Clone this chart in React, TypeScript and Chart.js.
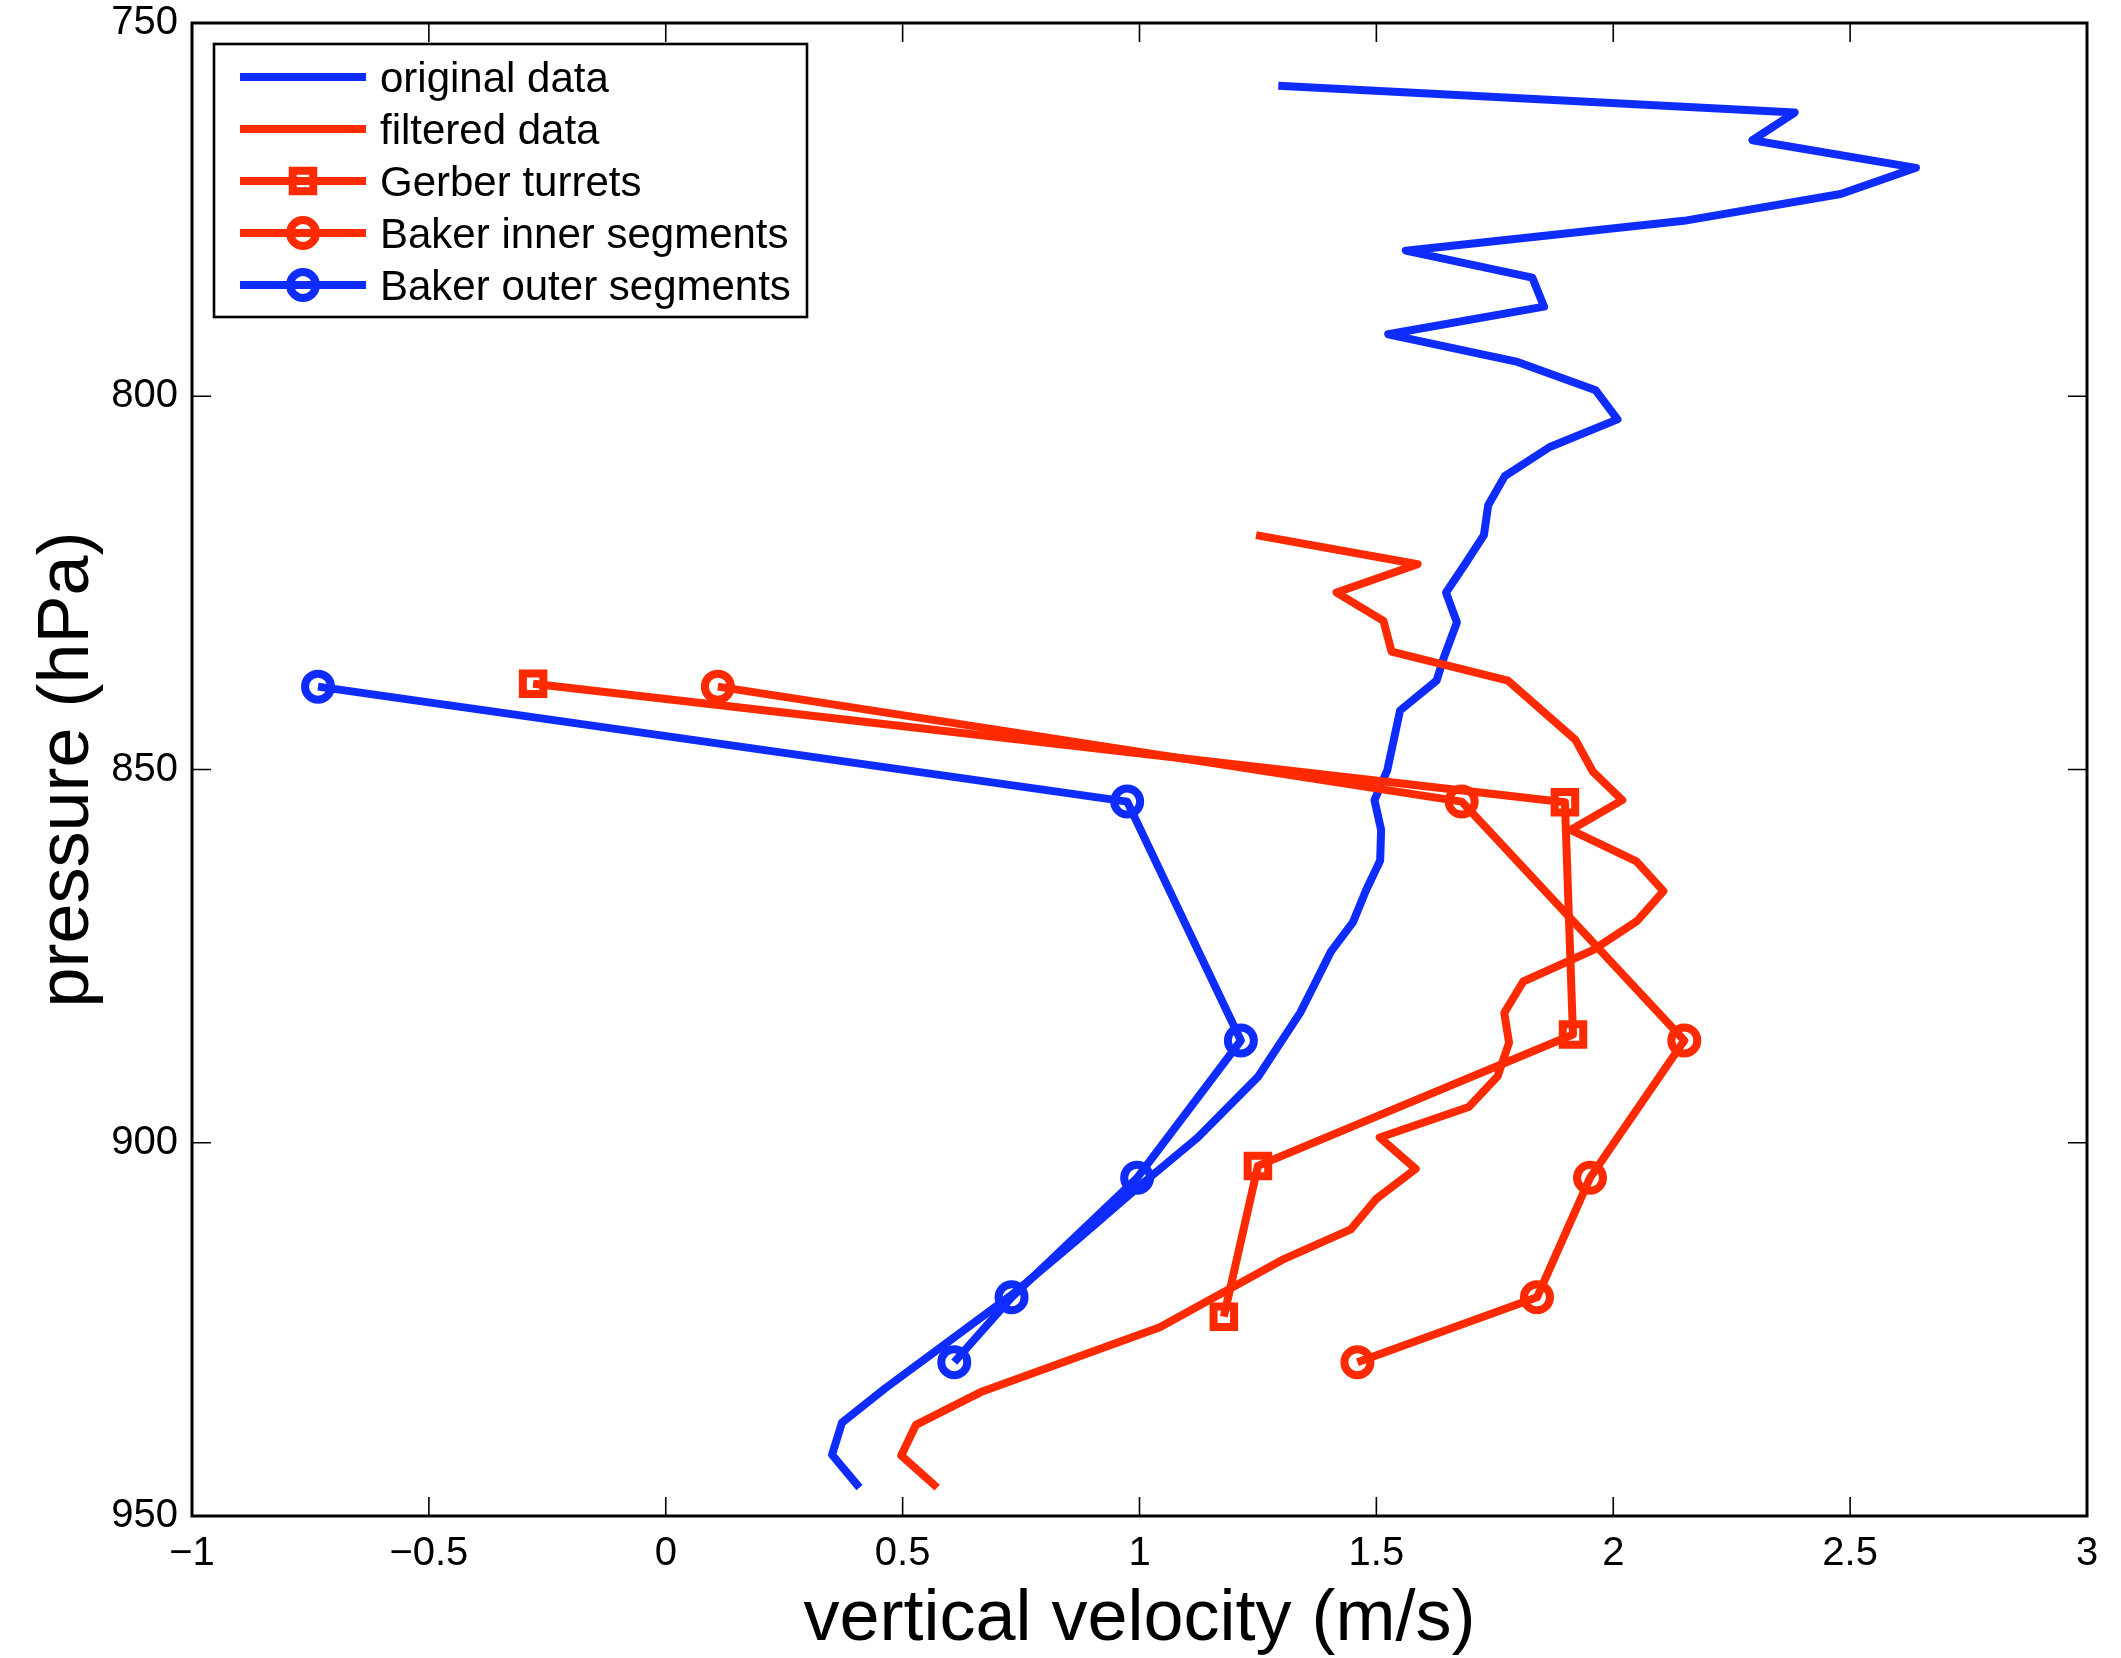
import { useEffect, useRef } from 'react';
import { Chart, registerables } from 'chart.js';

Chart.register(...registerables);

// Axis ticks
const xTicks = [-1, -0.5, 0, 0.5, 1, 1.5, 2, 2.5, 3];
const yTicks = [750, 800, 850, 900, 950];

// Original sounding profile (vertical velocity in m/s vs pressure in hPa)
const originalPressure = [
  758.4, 762.0, 765.7, 769.4, 772.9, 776.5, 780.5, 784.1, 788.0, 791.7, 795.4, 799.2, 803.1,
  806.8, 810.7, 814.6, 818.6, 822.6, 826.3, 830.3, 834.9, 838.1, 842.1, 850.1, 854.1, 858.1,
  862.2, 866.2, 870.4, 874.4, 878.7, 882.6, 891.1, 899.3, 905.7, 913.1, 920.3, 928.5, 932.9,
  937.5, 941.8, 946.2,
];
const originalVelocity = [
  1.293, 2.383, 2.294, 2.639, 2.48, 2.149, 1.562, 1.829, 1.854, 1.525, 1.798, 1.963, 2.009,
  1.866, 1.771, 1.736, 1.727, 1.686, 1.647, 1.67, 1.643, 1.627, 1.55, 1.523, 1.496, 1.51,
  1.508, 1.478, 1.451, 1.404, 1.37, 1.339, 1.251, 1.123, 1.002, 0.867, 0.732, 0.557, 0.463,
  0.372, 0.351, 0.409,
];

// Filtered profile
const filteredPressure = [
  818.6, 822.5, 826.3, 830.1, 834.2, 838.1, 846.0, 850.3, 854.1, 858.1, 862.3, 866.3, 870.3,
  874.2, 878.4, 882.6, 886.6, 891.1, 895.2, 899.3, 903.5, 907.5, 911.6, 915.7, 924.7, 933.4,
  937.8, 941.9, 946.2,
];
const filteredVelocity = [
  1.246, 1.587, 1.416, 1.515, 1.532, 1.778, 1.92, 1.957, 2.019, 1.91, 2.049, 2.106, 2.05,
  1.957, 1.81, 1.77, 1.78, 1.756, 1.695, 1.507, 1.583, 1.5, 1.446, 1.301, 1.043, 0.665,
  0.528, 0.497, 0.573,
];

// Gerber turrets
const gerberPressure = [838.5, 854.4, 885.5, 903.1, 923.3];
const gerberVelocity = [-0.28, 1.898, 1.915, 1.25, 1.178];

// Baker inner and outer segments
const bakerPressure = [838.9, 854.3, 886.3, 904.7, 920.7, 929.4];
const bakerInnerVelocity = [0.11, 1.68, 2.15, 1.951, 1.839, 1.46];
const bakerOuterVelocity = [-0.734, 0.974, 1.214, 0.995, 0.73, 0.609];

const legendLabels = [
  'original data',
  'filtered data',
  'Gerber turrets',
  'Baker inner segments',
  'Baker outer segments',
];

const BLUE = '#0f2cff';
const RED = '#ff2a00';
const FONT = '"Liberation Sans", Arial, Helvetica, sans-serif';
const LINE_W = 8;
const CIRCLE_R = 13;
const SQUARE_R = 14.5;

const legendStyles: { color: string; marker: 'none' | 'rect' | 'circle' }[] = [
  { color: BLUE, marker: 'none' },
  { color: RED, marker: 'none' },
  { color: RED, marker: 'rect' },
  { color: RED, marker: 'circle' },
  { color: BLUE, marker: 'circle' },
];

const toPoints = (v: number[], p: number[]) => v.map((x, i) => ({ x, y: p[i] }));

const fmtTick = (v: number) => (v < 0 ? '\u2212' + String(Math.abs(v)) : String(v));

// Box, inward ticks, axis titles and legend
const framePlugin = {
  id: 'frame',
  afterDraw(chart: any) {
    const { ctx, chartArea: a, scales } = chart;
    const TL = 19;
    ctx.save();
    ctx.strokeStyle = '#000';
    ctx.lineWidth = 1.6;
    ctx.beginPath();
    for (const v of xTicks) {
      const px = scales.x.getPixelForValue(v);
      ctx.moveTo(px, a.bottom);
      ctx.lineTo(px, a.bottom - TL);
      ctx.moveTo(px, a.top);
      ctx.lineTo(px, a.top + TL);
    }
    for (const v of yTicks) {
      const py = scales.y.getPixelForValue(v);
      ctx.moveTo(a.left, py);
      ctx.lineTo(a.left + TL, py);
      ctx.moveTo(a.right, py);
      ctx.lineTo(a.right - TL, py);
    }
    ctx.stroke();
    ctx.lineWidth = 3;
    ctx.strokeRect(a.left, a.top, a.right - a.left, a.bottom - a.top);

    // Axis titles
    ctx.fillStyle = '#000';
    ctx.font = `72px ${FONT}`;
    ctx.textAlign = 'center';
    ctx.textBaseline = 'alphabetic';
    ctx.fillText('vertical velocity (m/s)', (a.left + a.right) / 2, 1640);
    ctx.save();
    ctx.translate(88, (a.top + a.bottom) / 2);
    ctx.rotate(-Math.PI / 2);
    ctx.fillText('pressure (hPa)', 0, 0);
    ctx.restore();

    // Legend
    const bx = 214, by = 44, bw = 593, bh = 273;
    ctx.fillStyle = '#fff';
    ctx.fillRect(bx, by, bw, bh);
    ctx.lineWidth = 2.6;
    ctx.strokeStyle = '#000';
    ctx.strokeRect(bx, by, bw, bh);
    ctx.font = `42px ${FONT}`;
    ctx.textAlign = 'left';
    ctx.textBaseline = 'middle';
    legendLabels.forEach((label, i) => {
      const y = 77 + i * 52;
      const st = legendStyles[i];
      ctx.strokeStyle = st.color;
      ctx.lineWidth = LINE_W;
      ctx.lineCap = 'butt';
      ctx.beginPath();
      ctx.moveTo(240, y);
      ctx.lineTo(366, y);
      ctx.stroke();
      if (st.marker === 'rect') {
        const s = SQUARE_R * Math.SQRT1_2;
        ctx.strokeRect(303 - s, y - s, 2 * s, 2 * s);
      } else if (st.marker === 'circle') {
        ctx.beginPath();
        ctx.arc(303, y, CIRCLE_R, 0, Math.PI * 2);
        ctx.stroke();
      }
      ctx.fillStyle = '#000';
      ctx.fillText(label, 380, y + 3);
    });
    ctx.restore();
  },
};

export default function App() {
  const canvasRef = useRef<HTMLCanvasElement | null>(null);

  useEffect(() => {
    if (!canvasRef.current) return;
    const lineBase = {
      showLine: true,
      borderWidth: LINE_W,
      tension: 0,
      borderJoinStyle: 'round' as const,
      borderCapStyle: 'butt' as const,
      pointBackgroundColor: 'rgba(0,0,0,0)',
    };
    const chart = new Chart(canvasRef.current, {
      type: 'scatter',
      data: {
        datasets: [
          {
            ...lineBase,
            label: legendLabels[0],
            data: toPoints(originalVelocity, originalPressure),
            borderColor: BLUE,
            pointRadius: 0,
            order: 5,
          },
          {
            ...lineBase,
            label: legendLabels[1],
            data: toPoints(filteredVelocity, filteredPressure),
            borderColor: RED,
            pointRadius: 0,
            order: 4,
          },
          {
            ...lineBase,
            label: legendLabels[2],
            data: toPoints(gerberVelocity, gerberPressure),
            borderColor: RED,
            pointBorderColor: RED,
            pointStyle: 'rect',
            pointRadius: SQUARE_R,
            pointBorderWidth: LINE_W,
            order: 3,
          },
          {
            ...lineBase,
            label: legendLabels[3],
            data: toPoints(bakerInnerVelocity, bakerPressure),
            borderColor: RED,
            pointBorderColor: RED,
            pointStyle: 'circle',
            pointRadius: CIRCLE_R,
            pointBorderWidth: LINE_W,
            order: 2,
          },
          {
            ...lineBase,
            label: legendLabels[4],
            data: toPoints(bakerOuterVelocity, bakerPressure),
            borderColor: BLUE,
            pointBorderColor: BLUE,
            pointStyle: 'circle',
            pointRadius: CIRCLE_R,
            pointBorderWidth: LINE_W,
            order: 1,
          },
        ],
      },
      options: {
        responsive: false,
        animation: false,
        devicePixelRatio: 1,
        layout: { padding: { left: 0, top: 23, right: 34, bottom: 0 } },
        plugins: {
          legend: { display: false },
          tooltip: { enabled: false },
        },
        scales: {
          x: {
            type: 'linear',
            min: -1,
            max: 3,
            grid: { display: false, drawTicks: false },
            border: { display: false },
            afterBuildTicks: (s: any) => {
              s.ticks = xTicks.map((value) => ({ value }));
            },
            afterFit: (s: any) => {
              s.height = 142;
            },
            ticks: {
              color: '#000',
              font: { family: FONT, size: 40 },
              padding: 14,
              maxRotation: 0,
              callback: (v: any) => fmtTick(Number(v)),
            },
          },
          y: {
            type: 'linear',
            reverse: true,
            min: 750,
            max: 950,
            grid: { display: false, drawTicks: false },
            border: { display: false },
            afterBuildTicks: (s: any) => {
              s.ticks = yTicks.map((value) => ({ value }));
            },
            afterFit: (s: any) => {
              s.width = 192;
            },
            ticks: {
              color: '#000',
              font: { family: FONT, size: 40, lineHeight: 0.2 },
              padding: 14,
              callback: (v: any) => fmtTick(Number(v)),
            },
          },
        },
      },
      plugins: [framePlugin],
    });
    return () => chart.destroy();
  }, []);

  return (
    <canvas
      ref={canvasRef}
      width={2121}
      height={1658}
      style={{ position: 'absolute', left: 0, top: 0, width: 2121, height: 1658 }}
    />
  );
}
